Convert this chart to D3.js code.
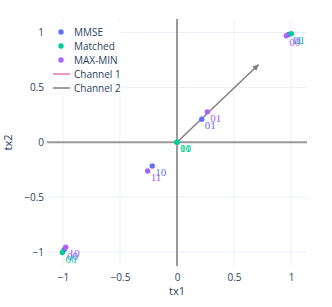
<!DOCTYPE html>
<html>
<head>
<meta charset="utf-8">
<script src="https://cdn.jsdelivr.net/npm/d3@7"></script>
<style>
	body { margin: 0; background: #fff; }
	text { font-family: "Open Sans", "Noto Sans", sans-serif; }
</style>
</head>
<body>
<svg id="chart" width="332" height="307"></svg>
<script>

// symbol labels, same order for every series
var bits = ["00", "01", "10", "11"];

var mmseX = [-0.99, 0.217, -0.217, 0.98];
var mmseY = [-0.98, 0.21, -0.216, 0.982];
var mmseLabels = ["00", "01", "10", "11"];

var matchedX = [-1.005, 0, 0, 1.003];
var matchedY = [-1.005, 0, 0, 0.99];
var matchedLabels = ["00", "01", "10", "11"];

var maxminX = [0.959, 0.266, -0.976, -0.257];
var maxminY = [0.971, 0.277, -0.956, -0.262];
var maxminLabels = ["00", "01", "10", "11"];

// channel vectors (start x, start y, end x, end y)
var channel1 = [0, 0, 0, 0];
var channel2 = [0, 0, 0.714, 0.706];

var xTicks = [-1, -0.5, 0, 0.5, 1];
var yTicks = [-1, -0.5, 0, 0.5, 1];

var seriesNames = ["MMSE", "Matched", "MAX-MIN"];
var lineNames = ["Channel 1", "Channel 2"];

var colors = { "MMSE": "#636efa", "Matched": "#00cc96", "MAX-MIN": "#ab63fa", "Channel 1": "#e377c2", "Channel 2": "#7f7f7f" };
var textColor = "#2a3f5f";

var margin = { left: 47, right: 25, top: 19, bottom: 41 };
var width = 332 - margin.left - margin.right;
var height = 307 - margin.top - margin.bottom;

var svg = d3.select("#chart");

var xScale = d3.scaleLinear().domain([-1.14, 1.14]).range([0, width]);
var yScale = d3.scaleLinear().domain([-1.128, 1.123]).range([height, 0]);

var g = svg.append("g").attr("transform", "translate(" + margin.left + "," + margin.top + ")");

/**
 * grid
 */
g.append("g").selectAll("line").data(xTicks.filter(function(d) { return d !== 0; }))
	.enter().append("line")
		.attr("x1", function(d) { return xScale(d); }).attr("x2", function(d) { return xScale(d); })
		.attr("y1", 0).attr("y2", height)
		.style("stroke", "#ebf0f8").style("stroke-width", 1);

g.append("g").selectAll("line").data(yTicks.filter(function(d) { return d !== 0; }))
	.enter().append("line")
		.attr("y1", function(d) { return yScale(d); }).attr("y2", function(d) { return yScale(d); })
		.attr("x1", 0).attr("x2", width)
		.style("stroke", "#ebf0f8").style("stroke-width", 1);

// zero lines
g.append("line")
	.attr("x1", xScale(0)).attr("x2", xScale(0)).attr("y1", 0).attr("y2", height)
	.style("stroke", "#999").style("stroke-width", 2);
g.append("line")
	.attr("y1", yScale(0)).attr("y2", yScale(0)).attr("x1", 0).attr("x2", width)
	.style("stroke", "#999").style("stroke-width", 2);

/**
 * axes
 */
var xAxis = d3.axisBottom(xScale).tickValues(xTicks).tickSize(0).tickPadding(8)
	.tickFormat(function(d) { return d3.format("")(d).replace("-", "\u2212"); });
var yAxis = d3.axisLeft(yScale).tickValues(yTicks).tickSize(0).tickPadding(3)
	.tickFormat(function(d) { return d3.format("")(d).replace("-", "\u2212"); });

var xg = g.append("g").attr("transform", "translate(0," + height + ")").call(xAxis);
var yg = g.append("g").call(yAxis);
[xg, yg].forEach(function(a)
{
	a.select(".domain").remove();
	a.selectAll("text").style("fill", textColor).style("font-size", "10px")
		.style("font-family", "'Open Sans', sans-serif");
});

svg.append("text")
	.attr("x", margin.left + xScale(0)).attr("y", 295)
	.attr("text-anchor", "middle")
	.style("fill", textColor).style("font-size", "11px")
	.text("tx1");

svg.append("text")
	.attr("transform", "translate(12," + (margin.top + height / 2) + ") rotate(-90)")
	.attr("text-anchor", "middle")
	.style("fill", textColor).style("font-size", "11px")
	.text("tx2");

/**
 * channel vectors
 */
svg.append("defs").append("marker")
	.attr("id", "arrow")
	.attr("viewBox", "0 0 10 10")
	.attr("refX", 8).attr("refY", 5)
	.attr("markerWidth", 5).attr("markerHeight", 5)
	.attr("orient", "auto")
	.append("path")
		.attr("d", "M0,1L9,5L0,9Z")
		.style("fill", colors["Channel 2"]);

[channel1, channel2].forEach(function(c, i)
{
	if(c[0] === c[2] && c[1] === c[3])
		return;
	g.append("line")
		.attr("x1", xScale(c[0])).attr("y1", yScale(c[1]))
		.attr("x2", xScale(c[2])).attr("y2", yScale(c[3]))
		.style("stroke", colors[lineNames[i]]).style("stroke-width", 1.5)
		.attr("marker-end", "url(#arrow)");
});

/**
 * scatter series
 */
var series = [
	{ name: "MMSE", x: mmseX, y: mmseY, labels: mmseLabels },
	{ name: "Matched", x: matchedX, y: matchedY, labels: matchedLabels },
	{ name: "MAX-MIN", x: maxminX, y: maxminY, labels: maxminLabels }
];

series.forEach(function(s)
{
	var pts = s.x.map(function(x, i) { return { x: x, y: s.y[i], label: s.labels[i] }; });
	var sg = g.append("g");

	sg.selectAll("circle").data(pts).enter().append("circle")
		.attr("cx", function(d) { return xScale(d.x); })
		.attr("cy", function(d) { return yScale(d.y); })
		.attr("r", 2.7)
		.style("fill", colors[s.name]);

	sg.selectAll("text").data(pts).enter().append("text")
		.attr("x", function(d) { return xScale(d.x) + 3; })
		.attr("y", function(d) { return yScale(d.y) + 10; })
		.style("fill", colors[s.name])
		.style("font-family", "'Liberation Serif', serif")
		.style("font-size", "11px")
		.text(function(d) { return d.label; });
});

/**
 * legend
 */
var legend = svg.append("g").attr("transform", "translate(48,22)");
legend.append("rect")
	.attr("width", 73).attr("height", 74)
	.style("fill", "#fff");

var items = seriesNames.map(function(n) { return { name: n, type: "marker" }; })
	.concat(lineNames.map(function(n) { return { name: n, type: "line" }; }));

var rows = legend.selectAll(".item").data(items).enter().append("g")
	.attr("class", "item")
	.attr("transform", function(d, i) { return "translate(0," + (10 + i * 14) + ")"; });

rows.filter(function(d) { return d.type === "marker"; }).append("circle")
	.attr("cx", 13).attr("cy", 0).attr("r", 2.7)
	.style("fill", function(d) { return colors[d.name]; });

rows.filter(function(d) { return d.type === "line"; }).append("line")
	.attr("x1", 5).attr("x2", 22).attr("y1", 0).attr("y2", 0)
	.style("stroke", function(d) { return colors[d.name]; }).style("stroke-width", 1.5);

rows.append("text")
	.attr("x", 26).attr("y", 3.5)
	.style("fill", textColor).style("font-size", "10px")
	.text(function(d) { return d.name; });

</script>
</body>
</html>
